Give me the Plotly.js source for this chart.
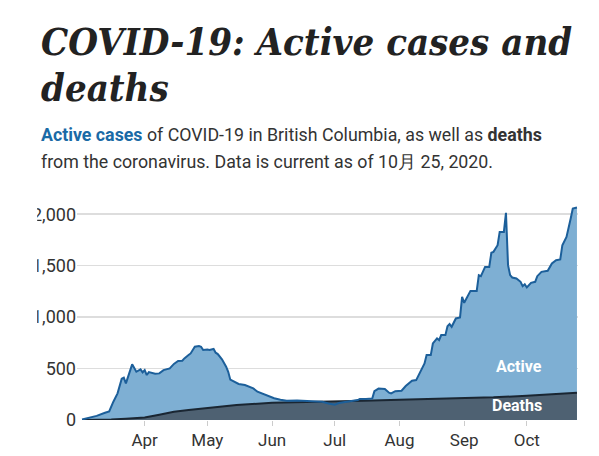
<!DOCTYPE html>
<html>
<head>
<meta charset="utf-8">
<script src="https://cdn.plot.ly/plotly-3.0.1.min.js"></script>
<style>
html,body{margin:0;padding:0;background:#fff;}
#chart{width:599px;height:456px;}
</style>
</head>
<body>
<div id="chart"></div>
<script>
const activeDates = ["2020-03-02","2020-03-06","2020-03-09","2020-03-13","2020-03-15","2020-03-17","2020-03-19","2020-03-21","2020-03-22","2020-03-23","2020-03-25","2020-03-26","2020-03-28","2020-03-30","2020-03-31","2020-04-01","2020-04-02","2020-04-03","2020-04-06","2020-04-08","2020-04-10","2020-04-13","2020-04-15","2020-04-17","2020-04-19","2020-04-20","2020-04-22","2020-04-23","2020-04-25","2020-04-27","2020-04-28","2020-04-29","2020-05-01","2020-05-02","2020-05-04","2020-05-05","2020-05-06","2020-05-08","2020-05-10","2020-05-11","2020-05-12","2020-05-14","2020-05-16","2020-05-19","2020-05-21","2020-05-23","2020-05-25","2020-05-28","2020-05-30","2020-06-02","2020-06-05","2020-06-08","2020-06-13","2020-06-18","2020-06-21","2020-06-25","2020-06-28","2020-07-01","2020-07-03","2020-07-08","2020-07-12","2020-07-13","2020-07-16","2020-07-19","2020-07-20","2020-07-22","2020-07-25","2020-07-27","2020-07-28","2020-07-30","2020-08-01","2020-08-02","2020-08-04","2020-08-07","2020-08-09","2020-08-11","2020-08-13","2020-08-14","2020-08-16","2020-08-17","2020-08-19","2020-08-20","2020-08-21","2020-08-23","2020-08-24","2020-08-25","2020-08-26","2020-08-28","2020-08-30","2020-08-31","2020-09-01","2020-09-04","2020-09-07","2020-09-08","2020-09-09","2020-09-11","2020-09-13","2020-09-14","2020-09-15","2020-09-17","2020-09-18","2020-09-20","2020-09-21","2020-09-22","2020-09-23","2020-09-24","2020-09-26","2020-09-28","2020-09-29","2020-09-30","2020-10-01","2020-10-03","2020-10-05","2020-10-06","2020-10-08","2020-10-11","2020-10-13","2020-10-15","2020-10-17","2020-10-18","2020-10-20","2020-10-22","2020-10-23","2020-10-25"];
const activeCases = [5,22,40,70,84,178,259,401,411,356,469,541,469,492,463,485,437,466,450,453,485,502,545,573,576,599,631,647,712,718,712,680,686,680,690,654,641,590,518,469,392,372,350,340,320,307,275,252,233,212,197,187,190,187,178,178,161,148,165,178,194,205,203,210,280,305,301,265,258,280,280,284,330,382,388,469,550,631,631,744,793,777,825,825,912,932,906,987,997,1197,1139,1255,1255,1408,1398,1488,1488,1625,1634,1699,1828,1828,2013,1505,1408,1385,1375,1343,1301,1319,1288,1333,1343,1398,1440,1450,1521,1553,1560,1699,1780,1958,2055,2065];

const deathDates = ["2020-03-02","2020-03-09","2020-03-16","2020-03-23","2020-04-01","2020-04-08","2020-04-15","2020-04-22","2020-05-01","2020-05-15","2020-06-01","2020-06-15","2020-07-01","2020-07-15","2020-08-01","2020-08-15","2020-09-01","2020-09-15","2020-10-01","2020-10-15","2020-10-25"];
const deaths = [0,1,4,13,25,52,80,98,115,145,168,172,178,188,198,203,210,220,235,250,265];

const monthTicks = ["2020-04-01","2020-05-01","2020-06-01","2020-07-01","2020-08-01","2020-09-01","2020-10-01"];
const monthLabels = ["Apr","May","Jun","Jul","Aug","Sep","Oct"];
const yTicks = [0,500,1000,1500,2000];
const yLabels = ["0","500","1,000","1,500","2,000"];

const SANS = 'Roboto, "Liberation Sans", sans-serif';
const SLAB = '"DejaVu Serif Condensed", "DejaVu Serif", serif';

const traces = [
  {x: activeDates, y: activeCases, type: 'scatter', mode: 'lines', fill: 'tozeroy',
   fillcolor: '#7eafd3', line: {color: 'rgba(0,0,0,0)', width: 0}, hoverinfo: 'skip', showlegend: false},
  {x: deathDates, y: deaths, type: 'scatter', mode: 'lines', fill: 'tozeroy',
   fillcolor: '#4e6172', line: {color: '#1a2632', width: 2}, hoverinfo: 'skip', showlegend: false},
  {x: activeDates, y: activeCases, type: 'scatter', mode: 'lines',
   line: {color: '#1c5f9a', width: 2}, hoverinfo: 'skip', showlegend: false}
];

const layout = {
  width: 599, height: 456,
  margin: {l: 77, r: 21, t: 206, b: 36, pad: 0},
  paper_bgcolor: '#fff', plot_bgcolor: '#fff',
  font: {family: SANS, size: 18, color: '#333'},
  xaxis: {
    type: 'date', range: ['2020-02-28 14:00', '2020-10-25 12:00'],
    tickvals: monthTicks, ticktext: monthLabels,
    ticks: 'outside', ticklen: 5, tickwidth: 1, tickcolor: '#cccccc',
    showgrid: false, zeroline: false, showline: false,
    tickfont: {family: SANS, size: 17, color: '#333'}, fixedrange: true
  },
  yaxis: {
    range: [0, 2080], tickvals: yTicks, ticktext: yLabels,
    showgrid: true, gridcolor: '#dddddd', gridwidth: 1.5,
    zeroline: false, showline: false, ticks: '',
    automargin: false,
    tickfont: {family: SANS, size: 18, color: '#333'}, fixedrange: true
  },
  shapes: [
    {type: 'rect', xref: 'paper', yref: 'paper', x0: -0.2, x1: -0.0795, y0: -0.12, y1: 1.06,
     fillcolor: '#ffffff', line: {width: 0}, layer: 'above'}
  ],
  annotations: [
    {xref: 'paper', yref: 'paper', x: -0.0758, y: 1.768, xanchor: 'left', yanchor: 'middle',
     text: '<b><i>COVID-19: Active cases and</i></b>', showarrow: false,
     font: {family: SLAB, size: 38, color: '#222'}},
    {xref: 'paper', yref: 'paper', x: -0.0758, y: 1.553, xanchor: 'left', yanchor: 'middle',
     text: '<b><i>deaths</i></b>', showarrow: false,
     font: {family: SLAB, size: 38, color: '#222'}},
    {xref: 'paper', yref: 'paper', x: -0.0758, y: 1.332, xanchor: 'left', yanchor: 'middle',
     text: '<b><span style="color:#1a6aa6">Active cases</span></b> of COVID-19 in British Columbia, as well as <b>deaths</b>', showarrow: false,
     font: {family: SANS, size: 17.8, color: '#333'}},
    {xref: 'paper', yref: 'paper', x: -0.0758, y: 1.210, xanchor: 'left', yanchor: 'middle',
     text: 'from the coronavirus. Data is current as of 10月 25, 2020.', showarrow: false,
     font: {family: SANS, size: 17.8, color: '#333'}},
    {xref: 'paper', yref: 'paper', x: 0.932, y: 0.248, xanchor: 'right', yanchor: 'middle',
     text: '<b>Active</b>', showarrow: false, font: {family: SANS, size: 16, color: '#ffffff'}},
    {xref: 'paper', yref: 'paper', x: 0.932, y: 0.070, xanchor: 'right', yanchor: 'middle',
     text: '<b>Deaths</b>', showarrow: false, font: {family: SANS, size: 16, color: '#ffffff'}}
  ]
};

Plotly.newPlot('chart', traces, layout, {displayModeBar: false, staticPlot: true});
</script>
</body>
</html>
